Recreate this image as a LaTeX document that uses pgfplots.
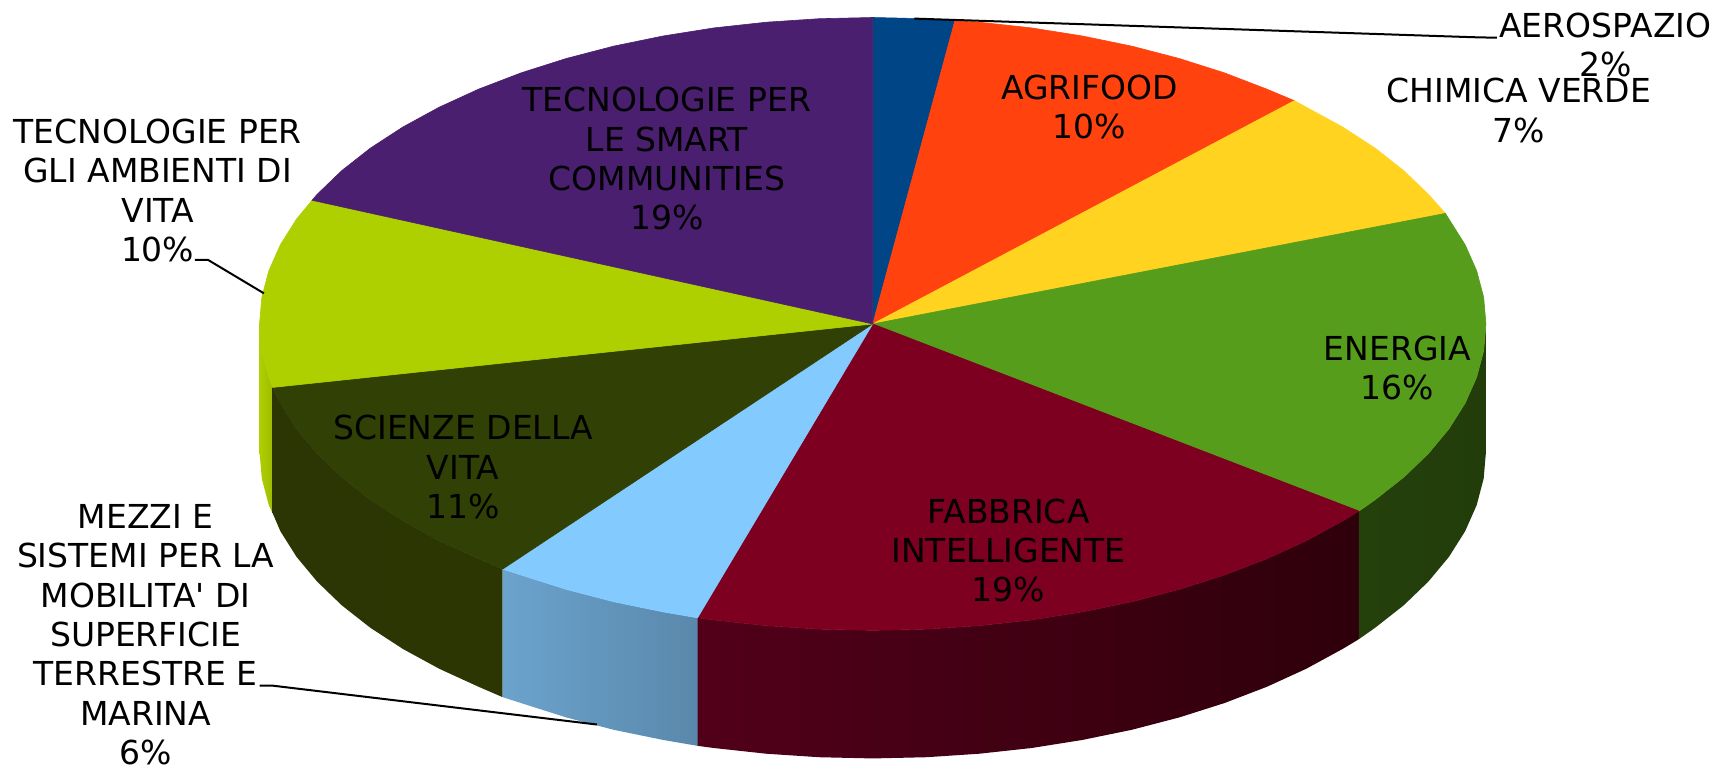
\documentclass[border=0pt]{standalone}
\usepackage{fontspec}
\setmainfont{DejaVu Sans}
\usepackage{pgfplots}
\pgfplotsset{compat=1.18}
\definecolor{cAero}{HTML}{004586}
\definecolor{cAgri}{HTML}{FF420E}
\definecolor{cChim}{HTML}{FFD320}
\definecolor{cEner}{HTML}{579D1C}
\definecolor{cFabb}{HTML}{7E0021}
\definecolor{cMezz}{HTML}{83CAFF}
\definecolor{cScie}{HTML}{314004}
\definecolor{cAmbi}{HTML}{AECF00}
\definecolor{cSmar}{HTML}{4B1F6F}
\definecolor{wEnerL}{HTML}{24400B}
\definecolor{wEnerR}{HTML}{223D0A}
\definecolor{wFabbL}{HTML}{52001A}
\definecolor{wFabbR}{HTML}{2E000B}
\definecolor{wMezzL}{HTML}{6BA3CD}
\definecolor{wMezzR}{HTML}{5A88AB}
\definecolor{wScieL}{HTML}{2C3604}
\definecolor{wScieR}{HTML}{2B3603}
\definecolor{wAmbiL}{HTML}{AECF00}
\definecolor{wAmbiR}{HTML}{A0BC00}
\tikzset{lab/.style={align=center,inner sep=0pt,text=black,font=\fontsize{16.5}{19.7}\selectfont}}
\pgfplotsset{leader/.style={black,line width=1pt}}
\begin{document}
\begin{tikzpicture}
\begin{axis}[
  scale only axis,width=858.5pt,height=382.5pt,
  xmin=0,xmax=1568,ymin=0,ymax=699,y dir=reverse,
  hide axis,clip=false,no markers,
]
\path (axis cs:0,0) rectangle (axis cs:1568,699);
% side walls
\addplot[shade,left color=wAmbiL,right color=wAmbiR,draw=none] coordinates {(249,354)(245.5,344.6)(239.1,320.4)(237,296)(237,413)(239.1,437.4)(245.5,461.6)(249,469)} --cycle;
\addplot[shade,left color=wScieL,right color=wScieR,draw=none] coordinates {(459,520)(437,510.5)(401,494)(368,476)(338.2,456.6)(312,436)(289.5,414.3)(270.8,391.8)(256.1,368.5)(249,354)(249,469)(256.1,485.5)(270.8,508.8)(289.5,531.3)(312,553)(338.2,573.6)(368,593)(401,611)(437,627.5)(459,637)} --cycle;
\addplot[shade,left color=wMezzL,right color=wMezzR,draw=none] coordinates {(637,564.5)(605.5,559.1)(560.3,549.8)(517,538.5)(475.8,525.4)(459,520)(459,637)(475.8,642.4)(517,655.5)(560.3,666.8)(605.5,676.1)(637,681.5)} --cycle;
\addplot[shade,left color=wFabbL,right color=wFabbR,draw=none] coordinates {(1241,467)(1226,476)(1193,494)(1157,510.5)(1118.2,525.4)(1077,538.5)(1033.7,549.8)(988.5,559.1)(941.9,566.5)(894.2,571.7)(845.8,574.9)(797,576)(748.2,574.9)(699.8,571.7)(652.1,566.5)(637,564.5)(637,681.5)(652.1,683.5)(699.8,688.7)(748.2,691.9)(797,693)(845.8,691.9)(894.2,688.7)(941.9,683.5)(988.5,676.1)(1033.7,666.8)(1077,655.5)(1118.2,642.4)(1157,627.5)(1193,611)(1226,593)(1241,584)} --cycle;
\addplot[shade,left color=wEnerL,right color=wEnerR,draw=none] coordinates {(1357,296)(1354.9,320.4)(1348.5,344.6)(1337.9,368.5)(1323.2,391.8)(1304.5,414.3)(1282,436)(1255.8,456.6)(1241,467)(1241,584)(1255.8,573.6)(1282,553)(1304.5,531.3)(1323.2,508.8)(1337.9,485.5)(1348.5,461.6)(1354.9,437.4)(1357,413)} --cycle;
% top faces
\addplot[fill=cAero,draw=cAero,line width=0.3pt] coordinates {(797,296)(797,16)(845.8,17.1)(872,19)} --cycle;
\addplot[fill=cAgri,draw=cAgri,line width=0.3pt] coordinates {(797,296)(872,19)(894.2,20.3)(941.9,25.5)(988.5,32.9)(1033.7,42.2)(1077,53.5)(1118.2,66.6)(1157,81.5)(1182,92)} --cycle;
\addplot[fill=cChim,draw=cChim,line width=0.3pt] coordinates {(797,296)(1182,92)(1193,98)(1226,116)(1255.8,135.4)(1282,156)(1304.5,177.7)(1320,195)} --cycle;
\addplot[fill=cEner,draw=cEner,line width=0.3pt] coordinates {(797,296)(1320,195)(1323.2,200.2)(1337.9,223.5)(1348.5,247.4)(1354.9,271.6)(1357,296)(1354.9,320.4)(1348.5,344.6)(1337.9,368.5)(1323.2,391.8)(1304.5,414.3)(1282,436)(1255.8,456.6)(1241,467)} --cycle;
\addplot[fill=cFabb,draw=cFabb,line width=0.3pt] coordinates {(797,296)(1241,467)(1226,476)(1193,494)(1157,510.5)(1118.2,525.4)(1077,538.5)(1033.7,549.8)(988.5,559.1)(941.9,566.5)(894.2,571.7)(845.8,574.9)(797,576)(748.2,574.9)(699.8,571.7)(652.1,566.5)(637,564.5)} --cycle;
\addplot[fill=cMezz,draw=cMezz,line width=0.3pt] coordinates {(797,296)(637,564.5)(605.5,559.1)(560.3,549.8)(517,538.5)(475.8,525.4)(459,520)} --cycle;
\addplot[fill=cScie,draw=cScie,line width=0.3pt] coordinates {(797,296)(459,520)(437,510.5)(401,494)(368,476)(338.2,456.6)(312,436)(289.5,414.3)(270.8,391.8)(256.1,368.5)(249,354)} --cycle;
\addplot[fill=cAmbi,draw=cAmbi,line width=0.3pt] coordinates {(797,296)(249,354)(245.5,344.6)(239.1,320.4)(237,296)(239.1,271.6)(245.5,247.4)(256.1,223.5)(270.8,200.2)(285,183)} --cycle;
\addplot[fill=cSmar,draw=cSmar,line width=0.3pt] coordinates {(797,296)(285,183)(289.5,177.7)(312,156)(338.2,135.4)(368,116)(401,98)(437,81.5)(475.8,66.6)(517,53.5)(560.3,42.2)(605.5,32.9)(652.1,25.5)(699.8,20.3)(748.2,17.1)(797,16)} --cycle;
% leader lines
\addplot[leader] coordinates {(835,17)(1345,34)(1367,34.5)};
\addplot[leader] coordinates {(178,237.5)(190,237.5)(241,268)};
\addplot[leader] coordinates {(237,626.5)(249,626.5)(545,662)};
% labels
\node[lab] at (axis cs:1466,41) {AEROSPAZIO\\2\%};
\node[lab] at (axis cs:1387,101) {CHIMICA VERDE\\7\%};
\node[lab] at (axis cs:995,98) {AGRIFOOD\\10\%};
\node[lab] at (axis cs:1276,336) {ENERGIA\\16\%};
\node[lab] at (axis cs:921,503) {FABBRICA\\INTELLIGENTE\\19\%};
\node[lab] at (axis cs:609,145) {TECNOLOGIE PER\\LE SMART\\COMMUNITIES\\19\%};
\node[lab] at (axis cs:144,174) {TECNOLOGIE PER\\GLI AMBIENTI DI\\VITA\\10\%};
\node[lab] at (axis cs:423,427) {SCIENZE DELLA\\VITA\\11\%};
\node[lab] at (axis cs:133,580) {MEZZI E\\SISTEMI PER LA\\MOBILITA\textquotesingle{} DI\\SUPERFICIE\\TERRESTRE E\\MARINA\\6\%};
\end{axis}
\end{tikzpicture}
\end{document}
